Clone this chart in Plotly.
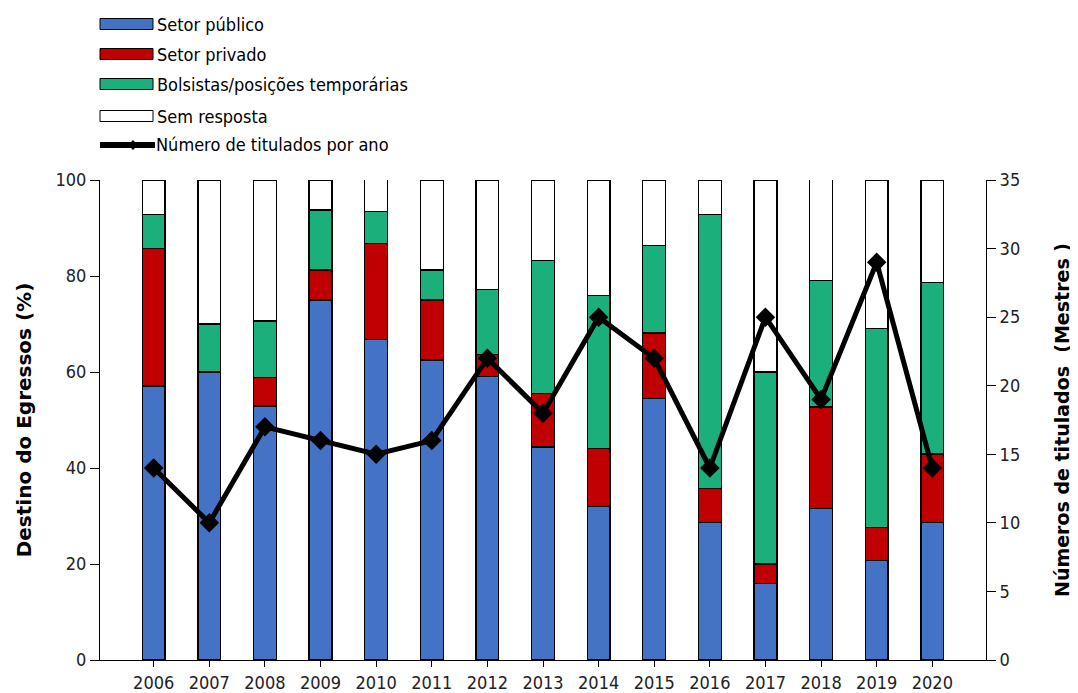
import plotly.graph_objects as go

years = ["2006", "2007", "2008", "2009", "2010", "2011", "2012", "2013",
         "2014", "2015", "2016", "2017", "2018", "2019", "2020"]
setor_publico = [57.1, 60.0, 52.9, 75.0, 66.7, 62.5, 59.1, 44.4, 32.0, 54.5, 28.6, 16.0, 31.6, 20.7, 28.6]
setor_privado = [28.6, 0.0, 5.9, 6.25, 20.0, 12.5, 4.5, 11.1, 12.0, 13.6, 7.1, 4.0, 21.1, 6.9, 14.3]
bolsistas = [7.1, 10.0, 11.8, 12.5, 6.7, 6.25, 13.6, 27.8, 32.0, 18.2, 57.1, 40.0, 26.3, 41.4, 35.7]
sem_resposta = [7.1, 30.0, 29.4, 6.25, 6.7, 18.75, 22.7, 16.7, 24.0, 13.6, 7.1, 40.0, 21.1, 31.0, 21.4]
titulados = [14, 10, 17, 16, 15, 16, 22, 18, 25, 22, 14, 25, 19, 29, 14]

names = ["Setor público", "Setor privado", "Bolsistas/posições temporárias", "Sem resposta"]
colors = ["#4472C4", "#C00000", "#1BAF7C", "#FFFFFF"]
series = [setor_publico, setor_privado, bolsistas, sem_resposta]

FONT = "DejaVu Sans Condensed, DejaVu Sans, sans-serif"
BFONT = "DejaVu Sans, sans-serif"
OFF = 8  # default body margin of the html page
W, H = 1078 - OFF, 693 - OFF
ML, MR, MT, MB = 100 - OFF, 92, 180 - OFF, 33
PW, PH = W - ML - MR, H - MT - MB


def px_x(x):
    return (x - OFF - ML) / PW


def px_y(y):
    return (OFF + H - MB - y) / PH


fig = go.Figure()
for name, col, vals in zip(names, colors, series):
    fig.add_trace(go.Bar(
        x=years, y=vals, name=name,
        marker=dict(color=col, line=dict(color="#000000", width=1.3)),
        showlegend=False, yaxis="y"))

fig.add_trace(go.Scatter(
    x=years, y=titulados, name="Número de titulados por ano", yaxis="y2",
    mode="lines+markers", line=dict(color="#000000", width=5),
    marker=dict(symbol="diamond", size=15, color="#000000"), showlegend=False))

# custom legend (wide swatches like the original)
shapes = []
annotations = []
rows = [24, 54, 84, 116, 145]
for i, (name, col) in enumerate(zip(names, colors)):
    cy = rows[i]
    shapes.append(dict(type="rect", xref="paper", yref="paper",
                       x0=px_x(100), x1=px_x(153), y0=px_y(cy - 5.5), y1=px_y(cy + 5.5),
                       fillcolor=col, line=dict(color="#000000", width=1)))
    annotations.append(dict(xref="paper", yref="paper", x=px_x(155), y=px_y(cy), text=name,
                            showarrow=False, xanchor="left", yanchor="middle",
                            font=dict(family=FONT, size=18, color="#000000")))
cy = rows[4]
shapes.append(dict(type="line", xref="paper", yref="paper", x0=px_x(100), x1=px_x(155),
                   y0=px_y(cy), y1=px_y(cy), line=dict(color="#000000", width=6)))
shapes.append(dict(type="path", xref="paper", yref="paper",
                   path="M {} {} L {} {} L {} {} L {} {} Z".format(
                       px_x(128), px_y(cy), px_x(133), px_y(cy - 5), px_x(138), px_y(cy),
                       px_x(133), px_y(cy + 5)),
                   fillcolor="#000000", line=dict(color="#000000", width=0)))
annotations.append(dict(xref="paper", yref="paper", x=px_x(154), y=px_y(cy),
                        text="Número de titulados por ano", showarrow=False,
                        xanchor="left", yanchor="middle",
                        font=dict(family=FONT, size=18, color="#000000")))

fig.update_layout(
    width=W, height=H,
    margin=dict(l=ML, r=MR, t=MT, b=MB),
    paper_bgcolor="#FFFFFF", plot_bgcolor="#FFFFFF",
    barmode="stack", bargap=0.59,
    showlegend=False,
    font=dict(family=FONT, size=18, color="#000000"),
    shapes=shapes, annotations=annotations,
    xaxis=dict(type="category", showline=True, linecolor="#000000", linewidth=1,
               ticks="outside", ticklen=6, tickcolor="#000000", showgrid=False,
               automargin=False,
               tickfont=dict(family=FONT, size=18, color="#222222")),
    yaxis=dict(range=[0, 100], dtick=20, showline=True, linecolor="#000000", linewidth=1,
               ticks="outside", ticklen=9, tickcolor="#000000", showgrid=False, zeroline=False,
               automargin=False,
               tickfont=dict(family=FONT, size=18, color="#222222"),
               title=dict(text="<b>Destino do Egressos (%)</b>", standoff=18,
                          font=dict(family=BFONT, size=20))),
    yaxis2=dict(range=[0, 35], dtick=5, overlaying="y", side="right", showline=True,
                linecolor="#000000", linewidth=1, ticks="outside", ticklen=9,
                tickcolor="#000000", showgrid=False, zeroline=False,
                automargin=False,
                tickfont=dict(family=FONT, size=18, color="#222222"),
                title=dict(text="<b>Números de titulados&nbsp; (Mestres&nbsp;)</b>",
                           standoff=36, font=dict(family=BFONT, size=19))),
)

fig.write_html("out.html")
